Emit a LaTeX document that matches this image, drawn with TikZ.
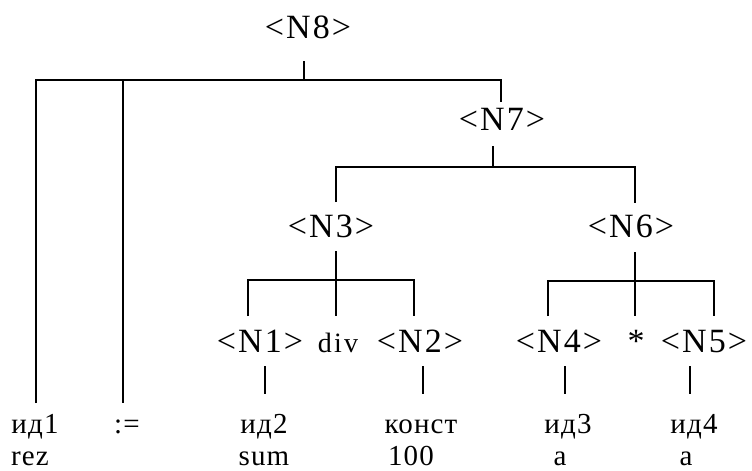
\documentclass[tikz,border=0pt]{standalone}
\usepackage{fontspec}
\setmainfont{Liberation Serif}
\newfontfamily\ntfont{Liberation Serif}[LetterSpace=6]
\newfontfamily\lffont{Liberation Serif}[LetterSpace=4]
\newfontfamily\dvfont{Liberation Serif}[LetterSpace=8]
\begin{document}
\begin{tikzpicture}[x=1pt,y=-1pt,
  nt/.style={font=\ntfont\fontsize{34}{34}\selectfont, inner sep=0pt, anchor=base},
  lf/.style={font=\lffont\fontsize{29}{29}\selectfont, inner sep=0pt, anchor=base},
  dvs/.style={font=\dvfont\fontsize{28}{28}\selectfont, inner sep=0pt, anchor=base},
  edge/.style={line width=1.5pt, line join=miter}]
\useasboundingbox (0,0) rectangle (752,471);
% nonterminal nodes
\node[nt] (n8) at (308,38) {<N8>};
\node[nt] (n7) at (502,130) {<N7>};
\node[nt] (n3) at (331,237) {<N3>};
\node[nt] (n6) at (631,237) {<N6>};
\node[nt] (n1) at (260,352) {<N1>};
\node[dvs] (dv) at (338,352) {div};
\node[nt] (n2) at (420,352) {<N2>};
\node[nt] (n4) at (559,352) {<N4>};
\node[nt] (st) at (636,352) {*};
\node[nt] (n5) at (704,352) {<N5>};
% leaves
\node[lf] (id1) at (35,433) {ид1};
\node[lf] (asg) at (127,433) {:=};
\node[lf] (id2) at (264,433) {ид2};
\node[lf] (kn) at (421,433) {конст};
\node[lf] (id3) at (568,433) {ид3};
\node[lf] (id4) at (694,433) {ид4};
\node[lf] (rz) at (30,465) {rez};
\node[lf] (sm) at (264,465) {sum};
\node[lf] (hd) at (411,465) {100};
\node[lf] (a1) at (560,465) {a};
\node[lf] (a2) at (686,465) {a};
% junction coordinates
\coordinate (n8d) at (304,61);  \coordinate (b8) at (304,80);
\coordinate (b8l) at (36,80);   \coordinate (b8c) at (123,80);
\coordinate (b8r) at (501,80);  \coordinate (id1u) at (36,403);
\coordinate (asgu) at (123,403); \coordinate (n7u) at (501,102);
\coordinate (n7d) at (493,146); \coordinate (b7) at (493,167);
\coordinate (b7l) at (336,167); \coordinate (b7r) at (635,167);
\coordinate (n3u) at (336,202); \coordinate (n6u) at (635,203);
\coordinate (n3d) at (336,251); \coordinate (b3l) at (248,280);
\coordinate (b3r) at (414,280); \coordinate (n1u) at (248,316);
\coordinate (dvu) at (336,316); \coordinate (n2u) at (414,316);
\coordinate (n6d) at (635,252); \coordinate (b6l) at (548,281);
\coordinate (b6r) at (714,281); \coordinate (n4u) at (548,316);
\coordinate (stu) at (635,316); \coordinate (n5u) at (714,316);
\coordinate (n1d) at (265,366); \coordinate (id2u) at (265,394);
\coordinate (n2d) at (423,366); \coordinate (knu) at (423,394);
\coordinate (n4d) at (565,366); \coordinate (id3u) at (565,394);
\coordinate (n5d) at (690,366); \coordinate (id4u) at (690,394);
% connectors
\draw[edge] (n8d) -- (b8);
\draw[edge] (id1u) -- (b8l) -- (b8r) -- (n7u);
\draw[edge] (b8c) -- (asgu);
\draw[edge] (n7d) -- (b7);
\draw[edge] (n3u) -- (b7l) -- (b7r) -- (n6u);
\draw[edge] (n3d) -- (dvu);
\draw[edge] (n1u) -- (b3l) -- (b3r) -- (n2u);
\draw[edge] (n6d) -- (stu);
\draw[edge] (n4u) -- (b6l) -- (b6r) -- (n5u);
\draw[edge] (n1d) -- (id2u);
\draw[edge] (n2d) -- (knu);
\draw[edge] (n4d) -- (id3u);
\draw[edge] (n5d) -- (id4u);
\end{tikzpicture}
\end{document}
